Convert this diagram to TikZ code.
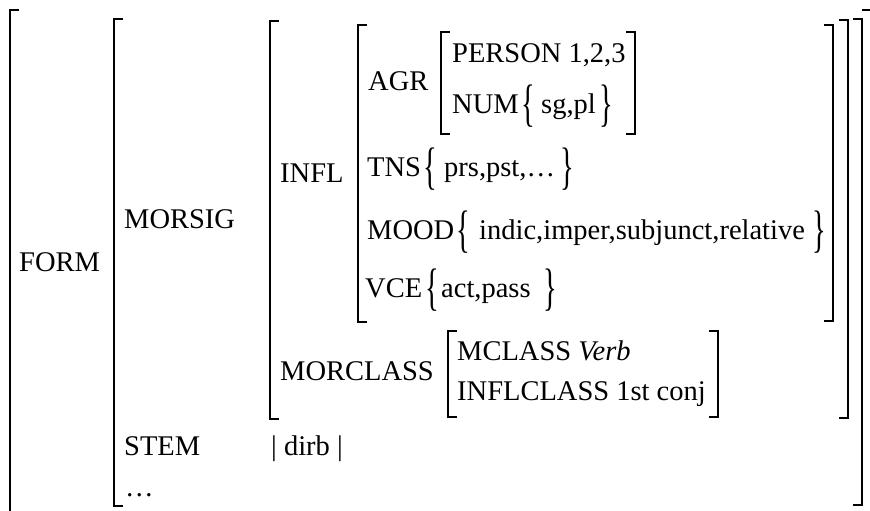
\documentclass[tikz,border=0pt]{standalone}
\usepackage{fontspec}
\setmainfont{Liberation Serif}
\usepackage{graphicx}

% left and right square brackets of an attribute-value matrix:
% #1 = x of the vertical stroke, #2 = top y, #3 = bottom y
\newcommand\avmL[3]{\draw[brk] (#1,#2) ++(9,0) -- (#1,#2) -- (#1,#3) -- ++(9,0);}
\newcommand\avmR[3]{\draw[brk] (#1,#2) ++(-9,0) -- (#1,#2) -- (#1,#3) -- ++(-9,0);}
% stretched set braces
\newcommand\setopen{\scalebox{1}[1.8]{\{}}
\newcommand\setclose{\scalebox{1}[1.8]{\}}}

\begin{document}
\begin{tikzpicture}[x=1pt,y=-1pt,
  every node/.style={inner sep=0pt,font=\fontsize{28.5}{34}\selectfont},
  lbl/.style={anchor=base west},
  brc/.style={anchor=center},
  brk/.style={line width=2pt,line join=miter}]
\useasboundingbox (0,0) rectangle (870,511);
\clip (0,0) rectangle (870,511);

% brackets, outermost first
\avmL{10}{10}{540}
\avmR{871}{10}{540}
\avmL{114}{19}{506}
\avmR{862}{19}{505}
\avmL{270}{21}{419}
\avmR{848}{20}{418}
\avmL{358}{25}{322}
\avmR{833}{25}{321}
\avmL{441}{32}{134}
\avmR{635}{32}{134}
\avmL{448}{331}{417}
\avmR{718}{331}{417}

% feature names and values
\node[lbl] (form)     at (19,271)  {FORM};
\node[lbl] (morsig)   at (124,228) {MORSIG};
\node[lbl] (infl)     at (280,182) {INFL};
\node[lbl] (agr)      at (368,91)  {AGR};
\node[lbl] (person)   at (452,63)  {PERSON 1,2,3};
\node[lbl] (num)      at (452,113) {NUM};
\node[lbl] (numv)     at (541,113) {sg,pl};
\node[lbl] (tns)      at (367,176) {TNS};
\node[lbl] (tnsv)     at (444,176) {prs,pst,…};
\node[lbl] (mood)     at (367,239) {MOOD};
\node[lbl] (moodv)    at (479,239) {indic,imper,subjunct,relative};
\node[lbl] (vce)      at (365,297) {VCE};
\node[lbl] (vcev)     at (441,297) {act,pass};
\node[lbl] (morclass) at (280,380) {MORCLASS};
\node[lbl] (mclass)   at (457,360) {MCLASS \textit{Verb}};
\node[lbl] (iclass)   at (457,400) {INFLCLASS 1st conj};
\node[lbl] (stem)     at (124,455) {STEM};
\node[lbl] (stemv)    at (271,455) {| dirb |};
\node[lbl] (etc)      at (125,496) {…};

% set braces
\node[brc] (numo)  at (528,106) {\setopen};
\node[brc] (numc)  at (606,106) {\setclose};
\node[brc] (tnso)  at (430,169) {\setopen};
\node[brc] (tnsc)  at (567,169) {\setclose};
\node[brc] (moodo) at (463,232) {\setopen};
\node[brc] (moodc) at (819,232) {\setclose};
\node[brc] (vceo)  at (432,290) {\setopen};
\node[brc] (vcec)  at (550,290) {\setclose};
\end{tikzpicture}
\end{document}
